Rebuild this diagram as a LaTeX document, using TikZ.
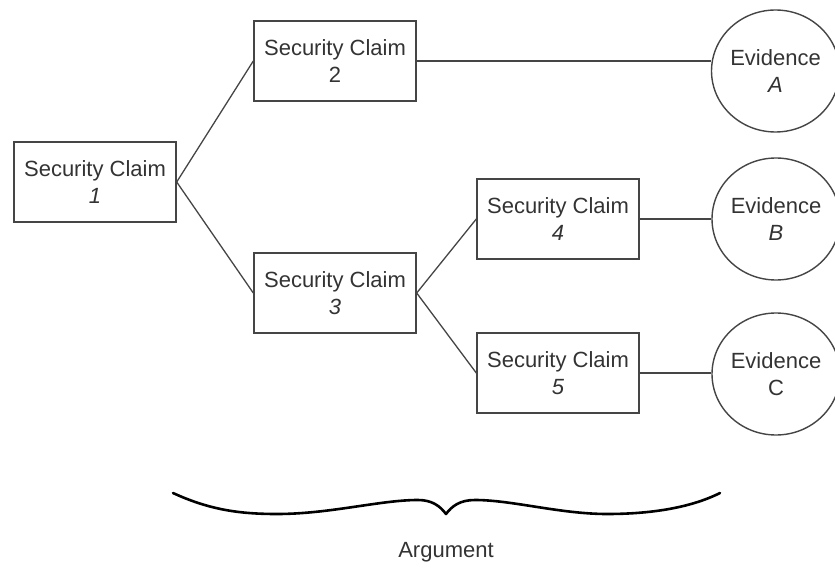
\documentclass[tikz,border=0pt]{standalone}
\usepackage{fontspec}
\setmainfont{Liberation Sans}
\usetikzlibrary{shapes.geometric}
\definecolor{txt}{HTML}{333333}
\definecolor{ln}{HTML}{454545}
\begin{document}
\begin{tikzpicture}[x=1pt,y=-1pt,
  claim/.style={draw=ln,line width=1.4pt,minimum width=162pt,minimum height=80pt,inner sep=0pt,
    align=center,text=txt,font=\fontsize{22}{27}\selectfont},
  evid/.style={draw=ln,line width=1.4pt,ellipse,minimum width=116pt,minimum height=122pt,inner sep=0pt,
    align=center,text=txt,font=\fontsize{22}{27}\selectfont},
  link/.style={draw=ln,line width=1.3pt}]
\useasboundingbox (0,0) rectangle (835,569);
\node[claim] (c1) at (95,182) {Security Claim\\\textit{1}};
\node[claim] (c2) at (335,61) {Security Claim\\2};
\node[claim] (c3) at (335,293) {Security Claim\\\textit{3}};
\node[claim] (c4) at (558,219) {Security Claim\\\textit{4}};
\node[claim] (c5) at (558,373) {Security Claim\\\textit{5}};
\node[evid] (eA) at (775.5,71) {Evidence\\\textit{A}};
\node[evid] (eB) at (776,219) {Evidence\\\textit{B}};
\node[evid] (eC) at (776,374) {Evidence\\C};
\draw[link] (c1.east) -- (c2.west);
\draw[link] (c1.east) -- (c3.west);
\draw[link] (c3.east) -- (c4.west);
\draw[link] (c3.east) -- (c5.west);
\draw[link] (c2.east) -- (c2.east -| eA.west);
\draw[link] (c4.east) -- (eB.west);
\draw[link] (c5.east) -- (c5.east -| eC.west);
\draw[line width=2.6pt,line cap=round,line join=round]
  (173,493) .. controls (210,510) and (240,514) .. (277,514)
  .. controls (330,514) and (380,500) .. (418,500)
  .. controls (432,500) and (440,506) .. (446,514)
  .. controls (452,506) and (460,500) .. (475,500)
  .. controls (512,500) and (560,514) .. (607,514)
  .. controls (650,514) and (690,508) .. (720,493);
\node[anchor=base,text=txt,font=\fontsize{22}{27}\selectfont,inner sep=0pt] (arg) at (446,557) {Argument};
\end{tikzpicture}
\end{document}
